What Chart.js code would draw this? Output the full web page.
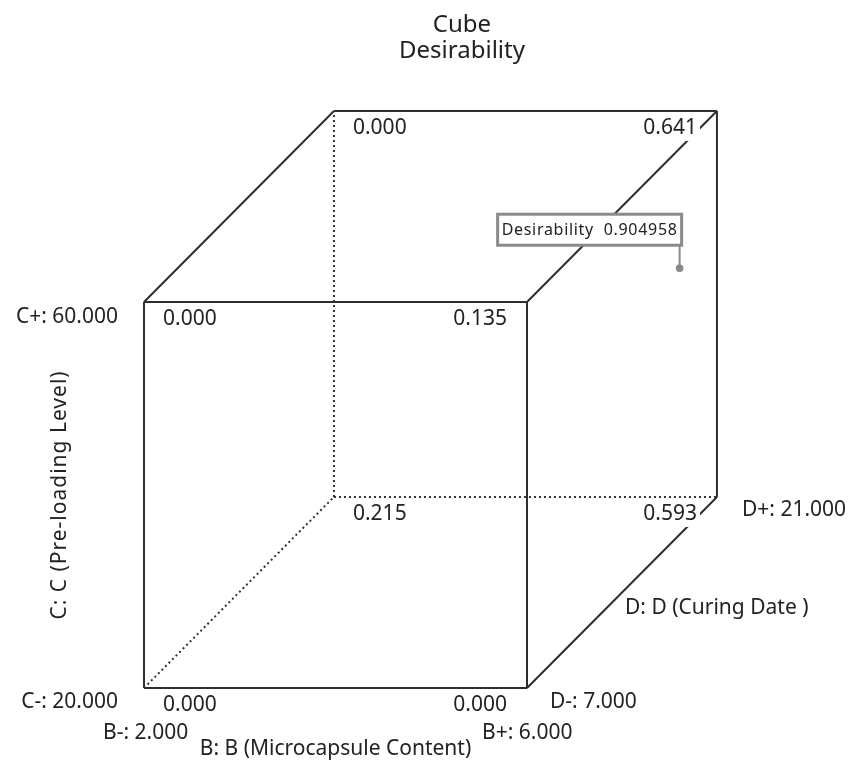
<!DOCTYPE html>
<html>
<head>
<meta charset="utf-8">
<script src="https://cdn.jsdelivr.net/npm/chart.js@4"></script>
<style>
  html, body { margin: 0; padding: 0; background: #fff; }
  #wrap { width: 850px; height: 763px; }
</style>
</head>
<body>
<div id="wrap"><canvas id="cube" width="850" height="763"></canvas></div>
<script>
// factor levels (actual units)
const bLevels = [2, 6]      // B: Microcapsule Content
const cLevels = [20, 60]    // C: Pre-loading Level
const dLevels = [7, 21]     // D: Curing Date
// desirability at the corners, order: (B-,C-), (B+,C-), (B-,C+), (B+,C+)
const frontDesirability = [0.000, 0.000, 0.000, 0.135]  // D- face
const backDesirability = [0.215, 0.593, 0.000, 0.641]   // D+ face
// optimum point shown with the flag
const optimum = { b: 5.61, c: 43.7, d: 21, value: 0.904958 }

const titleLines = ["Cube", "Desirability"]
const bName = "B: B (Microcapsule Content)"
const cName = "C: C (Pre-loading Level)"
const dName = "D: D (Curing Date )"

// oblique projection of the depth (D) axis
const DEPTH_X = 0.992
const DEPTH_Y = 0.99

const code = (v, lv) => (v - (lv[0] + lv[1]) / 2) / ((lv[1] - lv[0]) / 2)
const project = (b, c, d) => {
  const cb = code(b, bLevels), cc = code(c, cLevels), cd = code(d, dLevels)
  return { x: cb + DEPTH_X * (cd + 1) / 2, y: cc + DEPTH_Y * (cd + 1) / 2 }
}

// where the front face should land on the page
const frontPx = { left: 144, right: 527, top: 302, bottom: 688 }
const padLeft = 74
const titleH = 12 + 2 * 24 * 1.1 + 10
const ppuX = (frontPx.right - frontPx.left) / 2
const ppuY = (frontPx.bottom - frontPx.top) / 2
const xMin = -1 - (frontPx.left - padLeft) / ppuX
const xMax = 1 + (850 - frontPx.right) / ppuX
const yMax = 1 + (frontPx.top - titleH) / ppuY
const yMin = -1 - (763 - frontPx.bottom) / ppuY

// edges of the cube, hidden ones drawn dotted
const corners = []
dLevels.forEach(d => cLevels.forEach(c => bLevels.forEach(b => corners.push({ b, c, d }))))
const isHidden = (p) => p.b === bLevels[0] && p.c === cLevels[0] && p.d === dLevels[1]
const edges = []
for (let i = 0; i < corners.length; i++) {
  for (let j = i + 1; j < corners.length; j++) {
    const a = corners[i], k = corners[j]
    const diff = (a.b !== k.b) + (a.c !== k.c) + (a.d !== k.d)
    if (diff === 1) edges.push([a, k])
  }
}

const lineColor = "#2e2e2e"
const datasets = edges.map(([a, k]) => {
  const hidden = isHidden(a) || isHidden(k)
  return {
    data: [project(a.b, a.c, a.d), project(k.b, k.c, k.d)],
    showLine: true,
    borderColor: hidden ? "#333" : lineColor,
    borderWidth: 2,
    borderDash: hidden ? [2, 3] : [],
    pointRadius: 0,
    fill: false
  }
})
datasets.push({
  data: [project(optimum.b, optimum.c, optimum.d)],
  pointRadius: 3.5,
  pointBackgroundColor: "#8a8a8a",
  pointBorderColor: "#8a8a8a",
  showLine: false
})

const textColor = "#222"
const font = (s) => `${s}px "Noto Sans", "DejaVu Sans", sans-serif`

const cubeLabels = {
  id: "cubeLabels",
  afterDatasetsDraw(chart) {
    const { ctx } = chart
    const sx = chart.scales.x, sy = chart.scales.y
    const pix = (b, c, d) => {
      const p = project(b, c, d)
      return [sx.getPixelForValue(p.x), sy.getPixelForValue(p.y)]
    }
    ctx.save()
    ctx.textBaseline = "middle"

    // corner values, on white so the lines break behind them
    ctx.font = font(21)
    const faces = [[dLevels[0], frontDesirability], [dLevels[1], backDesirability]]
    faces.forEach(([d, vals]) => {
      let n = 0
      cLevels.forEach(c => bLevels.forEach(b => {
        const [px, py] = pix(b, c, d)
        const txt = vals[n++].toFixed(3)
        const w = ctx.measureText(txt).width
        const left = b === bLevels[0]
        const tx = left ? px + 19 : px - 20 - w
        const ty = py + 17
        ctx.fillStyle = "#fff"
        ctx.fillRect(tx - 3, ty - 12, w + 6, 25)
        ctx.fillStyle = textColor
        ctx.textAlign = "left"
        ctx.fillText(txt, tx, ty)
      }))
    })

    // factor level labels
    const [fl, ft] = pix(bLevels[0], cLevels[1], dLevels[0])
    const [fr, fb] = pix(bLevels[1], cLevels[0], dLevels[0])
    const [br, bb] = pix(bLevels[1], cLevels[0], dLevels[1])
    ctx.fillStyle = textColor
    ctx.textAlign = "right"
    ctx.fillText(`C+: ${cLevels[1].toFixed(3)}`, fl - 26, ft + 15)
    ctx.fillText(`C-: ${cLevels[0].toFixed(3)}`, fl - 26, fb + 14)
    ctx.textAlign = "left"
    ctx.fillText(`B-: ${bLevels[0].toFixed(3)}`, fl - 41, fb + 45)
    ctx.fillText(`B+: ${bLevels[1].toFixed(3)}`, fr - 45, fb + 45)
    ctx.fillText(`D-: ${dLevels[0].toFixed(3)}`, fr + 23, fb + 14)
    ctx.fillText(`D+: ${dLevels[1].toFixed(3)}`, br + 25, bb + 13)
    ctx.fillText(dName, (fr + br) / 2 + 3, (fb + bb) / 2 + 16)
    ctx.textAlign = "center"
    ctx.fillText(bName, (fl + fr) / 2, fb + 61)
    ctx.save()
    ctx.translate(fl - 84, (ft + fb) / 2)
    ctx.rotate(-Math.PI / 2)
    ctx.letterSpacing = "1px"
    ctx.fillText(cName, 0, 0)
    ctx.restore()

    // optimum flag
    const [ox, oy] = pix(optimum.b, optimum.c, optimum.d)
    ctx.font = font(16)
    ctx.letterSpacing = "0.7px"
    const flag = `Desirability  ${optimum.value.toFixed(6)}`
    const fw = ctx.measureText(flag).width
    const boxR = ox + 2, boxB = oy - 23, boxH = 31
    const boxL = boxR - fw - 8
    ctx.strokeStyle = "#8a8a8a"
    ctx.lineWidth = 2
    ctx.beginPath()
    ctx.moveTo(ox, boxB)
    ctx.lineTo(ox, oy)
    ctx.stroke()
    ctx.fillStyle = "#fff"
    ctx.fillRect(boxL, boxB - boxH, boxR - boxL, boxH)
    ctx.lineWidth = 3
    ctx.strokeRect(boxL, boxB - boxH, boxR - boxL, boxH)
    ctx.fillStyle = textColor
    ctx.textAlign = "left"
    ctx.fillText(flag, boxL + 4, boxB - boxH / 2 + 1)
    ctx.restore()
  }
}

new Chart(document.getElementById("cube"), {
  type: "scatter",
  data: { datasets },
  options: {
    responsive: false,
    animation: false,
    layout: { autoPadding: false, padding: { left: padLeft, right: 0, top: 0, bottom: 0 } },
    scales: {
      x: { type: "linear", min: xMin, max: xMax, display: false },
      y: { type: "linear", min: yMin, max: yMax, display: false }
    },
    plugins: {
      legend: { display: false },
      tooltip: { enabled: false },
      title: {
        display: true,
        text: titleLines,
        color: textColor,
        font: { family: '"Noto Sans", "DejaVu Sans", sans-serif', size: 24, weight: "normal", lineHeight: 1.1 },
        padding: { top: 12, bottom: 10 }
      }
    }
  },
  plugins: [cubeLabels]
})
</script>
</body>
</html>
